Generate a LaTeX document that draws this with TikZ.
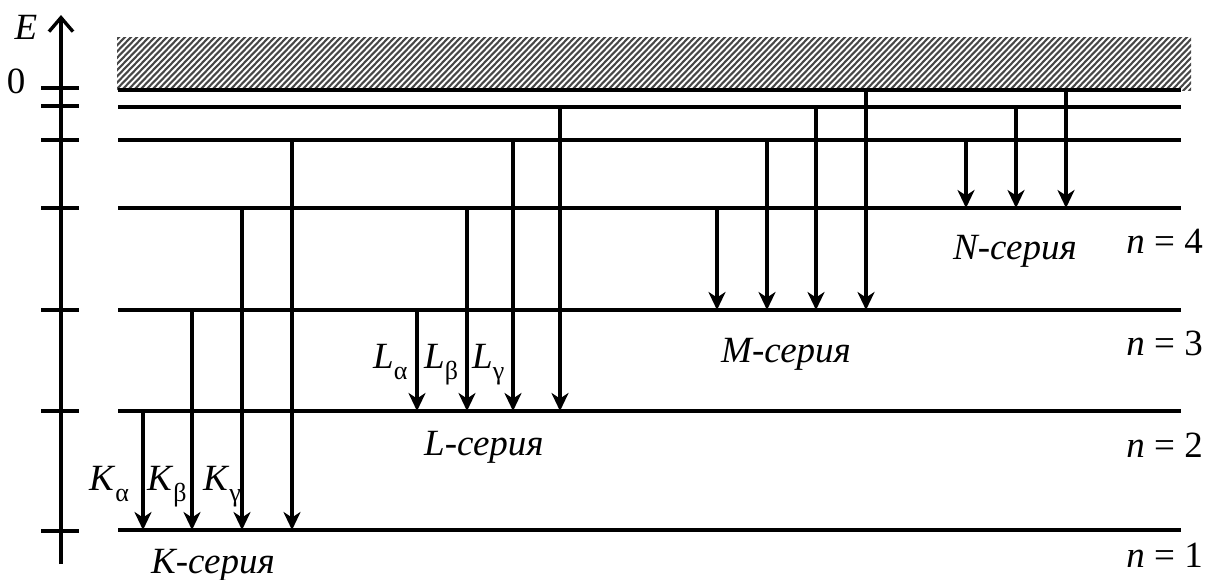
\documentclass[tikz,border=0pt]{standalone}
\usepackage{fontspec}
\setmainfont{LiberationSerif-Regular.ttf}[ItalicFont=LiberationSerif-Italic.ttf]
\usetikzlibrary{arrows.meta}
\newcommand\sbidx[1]{\raisebox{-0.3em}{\fontsize{26}{26}\selectfont #1}}
\tikzset{
  level/.style={line width=3.8pt},
  tick/.style={line width=3.4pt},
  trans/.style={line width=3.2pt,-{Stealth[length=18pt,width=17pt,inset=5.5pt]}},
  lbl/.style={font=\fontsize{37}{42}\selectfont, inner sep=0pt, anchor=base west},
  nlbl/.style={font=\fontsize{37}{42}\selectfont, inner sep=0pt, anchor=base east},
}
\begin{document}
\begin{tikzpicture}[x=1pt,y=-1pt]
\useasboundingbox (0,0) rectangle (1212,579);

% continuum (hatched band)
\begin{scope}
  \clip (117,37) rectangle (1191,90);
  \foreach \i in {0,6,...,1140}
    \draw[line width=2.1pt, black!72] (60+\i,92) -- (115+\i,35);
\end{scope}

% energy levels
\coordinate (C0) at (118,90);  \coordinate (C0e) at (1181,90);
\coordinate (L6) at (118,107); \coordinate (L6e) at (1181,107);
\coordinate (L5) at (118,140); \coordinate (L5e) at (1181,140);
\coordinate (L4) at (118,208); \coordinate (L4e) at (1181,208);
\coordinate (L3) at (118,310); \coordinate (L3e) at (1181,310);
\coordinate (L2) at (118,411); \coordinate (L2e) at (1181,411);
\coordinate (L1) at (118,530); \coordinate (L1e) at (1181,530);
\foreach \a/\b in {C0/C0e,L6/L6e,L5/L5e,L4/L4e,L3/L3e,L2/L2e,L1/L1e}
  \draw[level] (\a) -- (\b);

% energy axis
\coordinate (ax0) at (61,564);
\coordinate (ax1) at (61,15);
\draw[line width=3.4pt,-{Straight Barb[length=14pt,width=24pt,line width=3.4pt]}] (ax0) -- (ax1);
\foreach \y in {88,106,140,208,310,411,531}
  \draw[tick] (41,\y) -- (79,\y);

\node[lbl, anchor=base] (E) at (26,39) {\textit{E}};
\node[lbl, anchor=base] (zero) at (16,93) {0};

% K series
\foreach \x/\u in {143/L2,192/L3,242/L4,292/L5}
  \draw[trans] (\x,0 |- \u) -- (\x,0 |- L1);
% L series
\foreach \x/\u in {417/L3,467/L4,513/L5,560/L6}
  \draw[trans] (\x,0 |- \u) -- (\x,0 |- L2);
% M series
\foreach \x/\u in {717/L4,767/L5,816/L6,866/C0}
  \draw[trans] (\x,0 |- \u) -- (\x,0 |- L3);
% N series
\foreach \x/\u in {966/L5,1016/L6,1066/C0}
  \draw[trans] (\x,0 |- \u) -- (\x,0 |- L4);

% line labels
\node[lbl] (Ka) at (89,490)  {\textit{K}\sbidx{α}};
\node[lbl] (Kb) at (147,490) {\textit{K}\sbidx{β}};
\node[lbl] (Kg) at (203,490) {\textit{K}\sbidx{γ}};
\node[lbl] (La) at (373,368) {\textit{L}\sbidx{α}};
\node[lbl] (Lb) at (424,368) {\textit{L}\sbidx{β}};
\node[lbl] (Lg) at (472,368) {\textit{L}\sbidx{γ}};

% series names
\node[lbl] (Ks) at (151,573) {\textit{K-серия}};
\node[lbl] (Ls) at (424,455) {\textit{L-серия}};
\node[lbl] (Ms) at (721,362) {\textit{M-серия}};
\node[lbl] (Ns) at (953,259) {\textit{N-серия}};

% quantum numbers
\node[nlbl] (n4) at (1203,253) {\textit{n} = 4};
\node[nlbl] (n3) at (1203,355) {\textit{n} = 3};
\node[nlbl] (n2) at (1203,457) {\textit{n} = 2};
\node[nlbl] (n1) at (1203,567) {\textit{n} = 1};
\end{tikzpicture}
\end{document}
